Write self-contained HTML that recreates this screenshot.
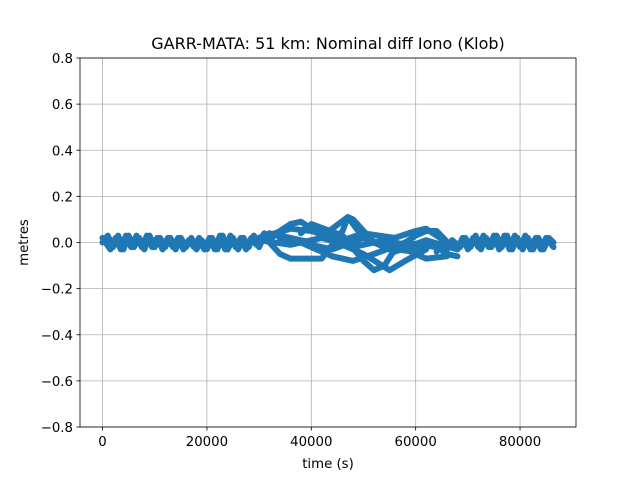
<!DOCTYPE html>
<html><head><meta charset="utf-8"><style>
body{margin:0;background:#fff}
svg text{font-family:"DejaVu Sans","Liberation Sans",sans-serif;fill:#000}
</style></head><body>
<svg id="chart" width="640" height="480" xmlns="http://www.w3.org/2000/svg"></svg>
<script>
const title = "GARR-MATA: 51 km: Nominal diff Iono (Klob)";
const xTicks = [0,20000,40000,60000,80000];
const yTicks = [-0.8,-0.6,-0.4,-0.2,0.0,0.2,0.4,0.6,0.8];
const yTickLabels = ["−0.8","−0.6","−0.4","−0.2","0.0","0.2","0.4","0.6","0.8"];
// tracks: times (ks) and values (m)
const bandT1 = [0,1,2,3,4,5,6,7,8,9,10,11,12,13,14,15,16,17,18,19,20,21,22,23,24,25,26,27,28,29,30,31,32,33,34];
const bandV1 = [0,0.03,-0.02,0.03,-0.03,0.03,-0.02,0.02,-0.03,0.03,-0.02,0.02,-0.02,0.02,-0.03,0.02,-0.02,0.02,-0.03,0.01,-0.03,0.02,-0.03,0.03,-0.03,0.02,-0.03,0.02,-0.02,0.03,-0.02,0.03,0.0,0.04,0.02];
const bandT2 = [0,1.5,2.5,3.5,4.5,5.5,6.5,7.5,8.5,9.5,10.5,11.5,12.5,13.5,14.5,15.5,16.5,17.5,18.5,19.5,20.5,21.5,22.5,23.5,24.5,25.5,26.5,27.5,28.5,29.5,31];
const bandV2 = [0.02,-0.03,0.02,-0.03,0.03,-0.02,0.03,-0.02,0.03,-0.02,0.02,-0.03,0.02,-0.02,0.02,-0.03,0.01,-0.02,0.02,-0.03,0.02,-0.03,0.03,-0.03,0.03,-0.02,0.02,-0.03,0.02,-0.01,0.04];
const bandT3 = [64,65,66,67,68,69,70,71,72,73,74,75,76,77,78,79,80,81,82,83,84,85,86.4];
const bandV3 = [-0.04,0.0,-0.03,0.01,-0.03,0.02,-0.03,0.02,-0.02,0.03,-0.02,0.03,-0.03,0.03,-0.03,0.03,-0.02,0.03,-0.03,0.02,-0.03,0.02,-0.02];
const bandT4 = [67,68.5,69.5,70.5,71.5,72.5,73.5,74.5,75.5,76.5,77.5,78.5,79.5,80.5,81.5,82.5,83.5,84.5,85.5,86.4];
const bandV4 = [0.01,-0.02,0.02,-0.02,0.03,-0.03,0.02,-0.02,0.03,-0.02,0.03,-0.03,0.02,-0.03,0.02,-0.03,0.02,-0.03,0.02,0.0];
const aT = [30,34,36,38,42,46,50,55,58,62];
const aV = [0.0,0.05,0.08,0.09,0.03,-0.01,-0.05,-0.12,-0.08,-0.03];
const bT = [32,34,36,42,46,47,48,52,56,60];
const bV = [0.0,-0.05,-0.07,-0.07,0.05,0.11,0.1,0.0,-0.03,-0.04];
const cT = [38,40,46,50,52,54,56,60,62,64,67];
const cV = [0.04,0.08,0.03,-0.08,-0.12,-0.1,-0.03,0.03,0.05,0.05,-0.02];
const dT = [34,36,40,44,48,52,58,64,66,68];
const dV = [0.0,0.02,-0.02,-0.06,-0.08,-0.05,0.0,-0.02,-0.05,-0.06];
const eT = [30,32,36,40,44,47,50,54,58,62,66];
const eV = [0.02,0.04,0.02,0.0,0.06,0.11,0.02,-0.01,-0.03,-0.07,-0.06];
const fT = [28,32,36,40,46,50,56,60,62,66,70];
const fV = [0.0,0.03,0.06,0.05,0.01,0.04,0.02,0.05,0.06,0.0,-0.01];
const gT = [30,36,42,48,54,60,66];
const gV = [0.01,-0.01,0.02,-0.02,0.01,-0.02,-0.01];
const hT = [34,38,44,50,56,62,68];
const hV = [0.03,0.0,-0.03,0.02,-0.04,0.01,-0.03];
const tracks = [[bandT1,bandV1],[bandT2,bandV2],[bandT3,bandV3],[bandT4,bandV4],[aT,aV],[bT,bV],[cT,cV],[dT,dV],[eT,eV],[fT,fV],[gT,gV],[hT,hV]];

const L=80,R=576,T=58,B=427,xMin=-4320,xMax=90720,yMin=-0.8,yMax=0.8;
const X=v=>L+(v-xMin)/(xMax-xMin)*(R-L);
const Y=v=>B-(v-yMin)/(yMax-yMin)*(B-T);
const svg=document.getElementById('chart');
const NS="http://www.w3.org/2000/svg";
function mk(tag,attrs,parent){const e=document.createElementNS(NS,tag);for(const k in attrs)e.setAttribute(k,attrs[k]);(parent||svg).appendChild(e);return e;}
const grid=mk('g',{});


xTicks.forEach(t=>{mk('line',{x1:X(t),x2:X(t),y1:T,y2:B,stroke:'#b0b0b0','stroke-width':0.8},grid);});
yTicks.forEach(t=>{mk('line',{x1:L,x2:R,y1:Y(t),y2:Y(t),stroke:'#b0b0b0','stroke-width':0.8},grid);});
const series=mk('g',{});


tracks.forEach((tr,i)=>{
  const d=tr[0].map((t,j)=>(j?'L':'M')+X(t*1000).toFixed(1)+' '+Y(tr[1][j]).toFixed(1)).join(' ');
  const p=mk('path',{d:d,fill:'none',stroke:'#1f77b4','stroke-width':6,'stroke-linejoin':'round','stroke-linecap':'round'},series);
  
  
});
const frame=mk('rect',{x:L,y:T,width:R-L,height:B-T,fill:'none',stroke:'#000','stroke-width':0.8});


const xa=mk('g',{});


xTicks.forEach(t=>{mk('line',{x1:X(t),x2:X(t),y1:B,y2:B+3.5,stroke:'#000','stroke-width':0.8},xa);
  const tx=mk('text',{x:X(t),y:B+19,'text-anchor':'middle','font-size':13.3},xa);tx.textContent=String(t);});
const ya=mk('g',{});


yTicks.forEach((t,i)=>{mk('line',{x1:L-3.5,x2:L,y1:Y(t),y2:Y(t),stroke:'#000','stroke-width':0.8},ya);
  const tx=mk('text',{x:L-7,y:Y(t)+5,'text-anchor':'end','font-size':13.3},ya);tx.textContent=yTickLabels[i];});
const xt=mk('text',{x:(L+R)/2,y:468,'text-anchor':'middle','font-size':13.3});xt.textContent='time (s)';


const yt=mk('text',{x:28,y:(T+B)/2,'text-anchor':'middle','font-size':13.3,transform:'rotate(-90 28 '+((T+B)/2)+')'});yt.textContent='metres';


const tt=mk('text',{x:(L+R)/2,y:49,'text-anchor':'middle','font-size':16});tt.textContent=title;


</script>
</body></html>
